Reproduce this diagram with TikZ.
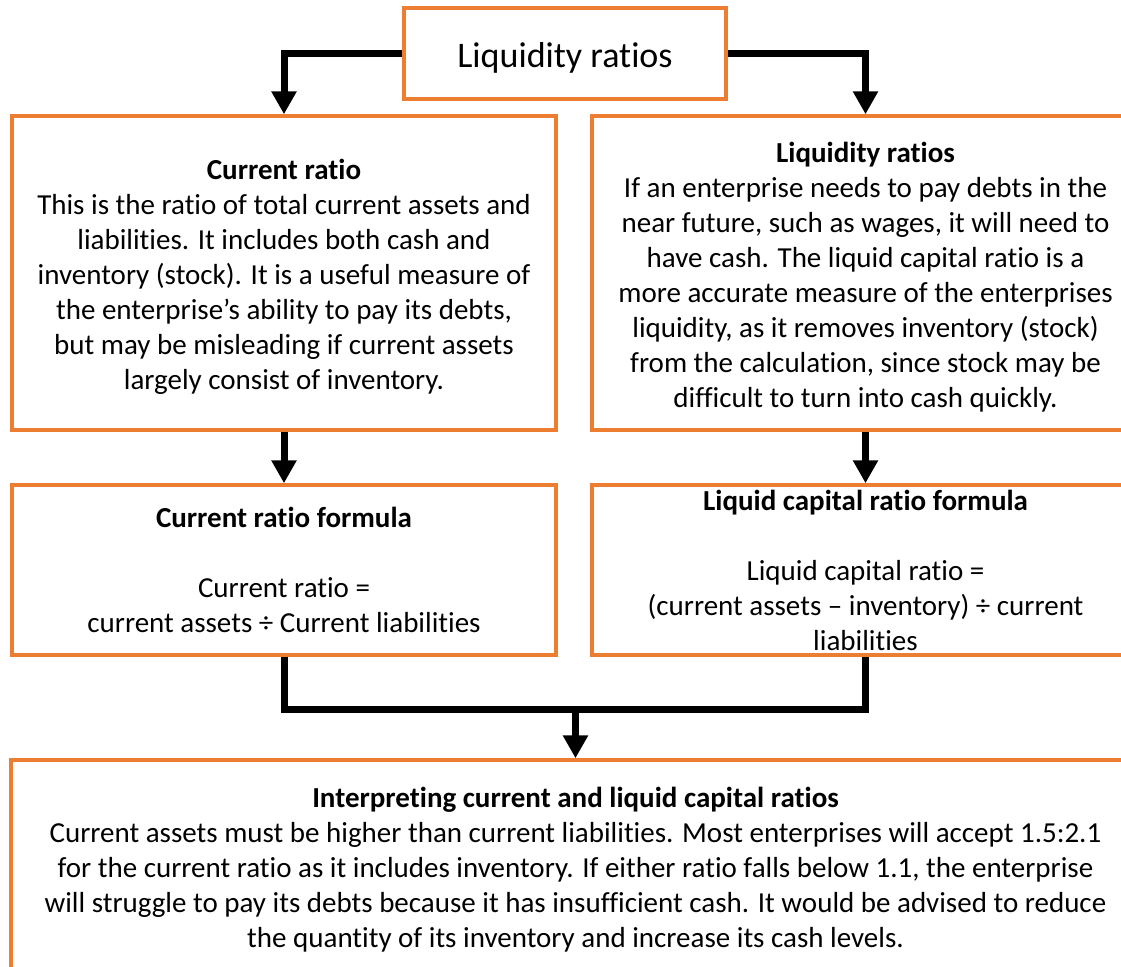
\documentclass[tikz,border=0pt]{standalone}
\usepackage{fontspec}
\setmainfont{Carlito}[Ligatures=NoCommon]
\usetikzlibrary{arrows.meta}
\definecolor{boxorange}{HTML}{ED7D31}

\begin{document}
\begin{tikzpicture}[x=1pt,y=-1pt,
  box/.style={draw=boxorange, line width=3.5pt, align=center, inner sep=0pt,
    font=\fontsize{29}{35}\selectfont},
  link/.style={line width=7pt},
  linkarrow/.style={link, -{Triangle[length=23pt,width=24pt]}}]

  \useasboundingbox (0,0) rectangle (1121,966);
  \def\lift#1{\rule{0pt}{#1}}% pushes a box text down a little

  % top row
  \node[box, minimum width=322pt, minimum height=91pt,
    font=\fontsize{36}{42}\selectfont] (top) at (565,53.5) {\lift{34pt}Liquidity ratios};

  % explanations
  \node[box, minimum width=544pt, minimum height=314pt] (cur) at (284,273)
    {\lift{28pt}\textbf{Current ratio}\\
     This is the ratio of total current assets and\\
     liabilities. It includes both cash and\\
     inventory (stock). It is a useful measure of\\
     the enterprise’s ability to pay its debts,\\
     but may be misleading if current assets\\
     largely consist of inventory.};
  \node[box, minimum width=547pt, minimum height=314pt] (liq) at (865.5,273)
    {\lift{29pt}\textbf{Liquidity ratios}\\
     If an enterprise needs to pay debts in the\\
     near future, such as wages, it will need to\\
     have cash. The liquid capital ratio is a\\
     more accurate measure of the enterprises\\
     liquidity, as it removes inventory (stock)\\
     from the calculation, since stock may be\\
     difficult to turn into cash quickly.};

  % formulas
  \node[box, minimum width=544pt, minimum height=170pt] (curf) at (284,570)
    {\textbf{Current ratio formula}\\[35pt]
     Current ratio =\\
     current assets ÷ Current liabilities};
  \node[box, minimum width=547pt, minimum height=170pt] (liqf) at (865.5,570)
    {\textbf{Liquid capital ratio formula}\\[35pt]
     Liquid capital ratio =\\
     (current assets – inventory) ÷ current\\
     liabilities};

  % interpretation
  \node[box, minimum width=1129pt, minimum height=214pt] (interp) at (575.5,867)
    {\lift{26pt}\textbf{Interpreting current and liquid capital ratios}\\
     Current assets must be higher than current liabilities. Most enterprises will accept 1.5:2.1\\
     for the current ratio as it includes inventory. If either ratio falls below 1.1, the enterprise\\
     will struggle to pay its debts because it has insufficient cash. It would be advised to reduce\\
     the quantity of its inventory and increase its cash levels.};

  % connectors
  \draw[linkarrow] (top.west) -| (cur.north);
  \draw[linkarrow] (top.east) -| (liq.north);
  \draw[linkarrow] (cur.south) -- (curf.north);
  \draw[linkarrow] (liq.south) -- (liqf.north);
  \coordinate (join) at (575.5,709);% meeting point
  \draw[link] (curf.south) |- (join) -| (liqf.south);
  \draw[linkarrow] (join) -- (interp.north);

\end{tikzpicture}
\end{document}
